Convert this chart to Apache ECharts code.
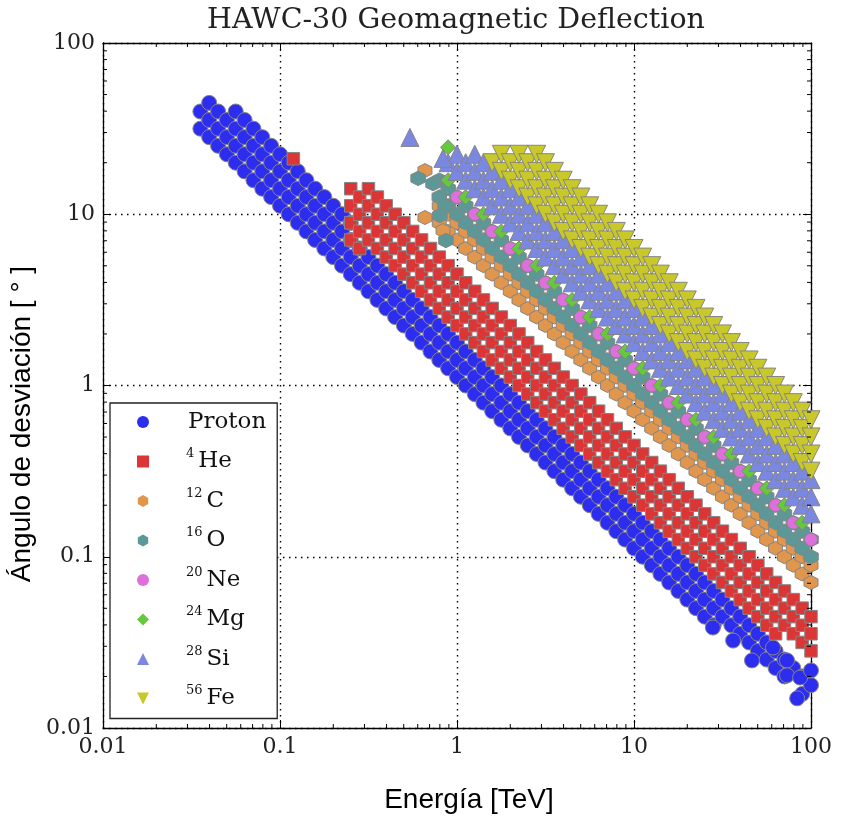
<!DOCTYPE html>
<html><head><meta charset="utf-8">
<script src="https://cdn.jsdelivr.net/npm/echarts@6/dist/echarts.min.js"></script>
<style>html,body{margin:0;padding:0;background:#fff}#c{width:841px;height:817px}</style>
</head><body><div id="c"></div>
<script>
// ---- axis ticks ----
const tickLabels = ['0.01', '0.1', '1', '10', '100'];
const minorTicks = [0.02,0.03,0.04,0.05,0.06,0.07,0.08,0.09,
  0.2,0.3,0.4,0.5,0.6,0.7,0.8,0.9, 2,3,4,5,6,7,8,9, 20,30,40,50,60,70,80,90];

// ---- series names / legend ----
const seriesNames = ['Proton', 'He', 'C', 'O', 'Ne', 'Mg', 'Si', 'Fe'];
const massNumbers = [null, 4, 12, 16, 20, 24, 28, 56];

// ---- data: each row = [energy TeV, deflection angles (deg) read at that energy ...] ----
const protonRows = [
 [0.0355,31.6,39.8],[0.0398,28.2,35.5,44.7],[0.0447,25.1,31.6,39.8],[0.0501,22.4,28.2,35.5],
 [0.0562,20.0,25.1,31.6,39.8],[0.0631,17.8,22.4,28.2,35.5],[0.0708,15.8,20.0,25.1,31.6],
 [0.0794,14.1,17.8,22.4,28.2],[0.0891,12.6,15.8,20.0,25.1],[0.1,11.2,14.1,17.8,22.4],
 [0.112,10,12.6,15.8,20.0],[0.126,8.91,11.2,14.1,17.8],[0.141,7.94,10,12.6,15.8],
 [0.158,7.08,8.91,11.2,14.1],[0.178,6.31,7.94,10,12.6],[0.2,5.62,7.08,8.91,11.2],
 [0.224,5.01,6.31,7.94,10],[0.251,4.47,5.62,7.08,8.91],[0.282,3.98,5.01,6.31],
 [0.316,3.55,4.47,5.62],[0.355,3.16,3.98,5.01],[0.398,2.82,3.55,4.47],[0.447,2.51,3.16,3.98],
 [0.501,2.24,2.82,3.55],[0.562,2.0,2.51,3.16],[0.631,1.78,2.24,2.82],[0.708,1.58,2.0,2.51],
 [0.794,1.41,1.78,2.24],[0.891,1.26,1.58,2.0],[1,1.12,1.41,1.78],[1.12,1.0,1.26,1.58],
 [1.26,0.891,1.12,1.41],[1.41,0.794,1.0,1.26],[1.58,0.708,0.891,1.12],[1.78,0.631,0.794,1.0],
 [2.0,0.562,0.708,0.891],[2.24,0.501,0.631,0.794],[2.51,0.447,0.562,0.708],[2.82,0.398,0.501,0.631],
 [3.16,0.355,0.447,0.562],[3.55,0.316,0.398,0.501],[3.98,0.282,0.355,0.447],[4.47,0.251,0.316,0.398],
 [5.01,0.224,0.282,0.355],[5.62,0.2,0.251,0.316],[6.31,0.178,0.224,0.282],[7.08,0.158,0.2,0.251],
 [7.94,0.141,0.178,0.224],[8.91,0.126,0.158,0.2],[10,0.112,0.141,0.178],[11.2,0.1,0.126,0.158],
 [12.6,0.0891,0.112,0.141],[14.1,0.0794,0.1,0.126],[15.8,0.0708,0.0891,0.112],[17.8,0.0631,0.0794,0.1],
 [20.0,0.0562,0.0708,0.0891],[22.4,0.0501,0.0631,0.0794],[25.1,0.0447,0.0562,0.0708],
 [28.2,0.0398,0.0501,0.0631],[31.6,0.0447,0.0562],[35.5,0.0398,0.0501],[39.8,0.0355,0.0447],
 [44.7,0.0316,0.0398],[50.1,0.0282,0.0355],[56.2,0.0251,0.0316],[63.1,0.0224,0.0282],
 [70.8,0.02,0.0251],[79.4,0.0224],[89.1,0.0158,0.02],[100,0.0178],
 [27.9,0.0386],[36.3,0.0324],[46.4,0.0248],[61,0.0295],[73.2,0.0248,0.0203],[86.8,0.0197],
 [83.5,0.0149],[100,0.0217]
];
const heliumRows = [
 [0.251,7.08,8.91,11.2,14.1],[0.282,6.31,7.94,10,12.6],[0.316,7.08,8.91,11.2,14.1],
 [0.355,6.31,7.94,10,12.6],[0.398,5.62,7.08,8.91,11.2],[0.447,5.01,6.31,7.94,10],
 [0.501,4.47,5.62,7.08,8.91],[0.562,3.98,5.01,6.31,7.94],[0.631,3.55,4.47,5.62,7.08],
 [0.708,3.16,3.98,5.01,6.31],[0.794,2.82,3.55,4.47,5.62],[0.891,2.51,3.16,3.98,5.01],
 [1,2.24,2.82,3.55,4.47],[1.12,2.0,2.51,3.16,3.98],[1.26,1.78,2.24,2.82,3.55],
 [1.41,1.58,2.0,2.51,3.16],[1.58,1.41,1.78,2.24,2.82],[1.78,1.26,1.58,2.0,2.51],
 [2.0,1.12,1.41,1.78,2.24],[2.24,1.0,1.26,1.58,2.0],[2.51,0.891,1.12,1.41,1.78],
 [2.82,0.794,1.0,1.26,1.58],[3.16,0.708,0.891,1.12,1.41],[3.55,0.631,0.794,1.0,1.26],
 [3.98,0.562,0.708,0.891,1.12],[4.47,0.501,0.631,0.794,1.0],[5.01,0.447,0.562,0.708,0.891],
 [5.62,0.398,0.501,0.631,0.794],[6.31,0.355,0.447,0.562,0.708],[7.08,0.316,0.398,0.501,0.631],
 [7.94,0.282,0.355,0.447,0.562],[8.91,0.251,0.316,0.398,0.501],[10,0.224,0.282,0.355,0.447],
 [11.2,0.2,0.251,0.316,0.398],[12.6,0.178,0.224,0.282,0.355],[14.1,0.158,0.2,0.251,0.316],
 [15.8,0.141,0.178,0.224,0.282],[17.8,0.126,0.158,0.2,0.251],[20.0,0.112,0.141,0.178,0.224],
 [22.4,0.1,0.126,0.158,0.2],[25.1,0.0891,0.112,0.141,0.178],[28.2,0.0794,0.1,0.126,0.158],
 [31.6,0.0708,0.0891,0.112,0.141],[35.5,0.0631,0.0794,0.1,0.126],[39.8,0.0562,0.0708,0.0891,0.112],
 [44.7,0.0501,0.0631,0.0794,0.1],[50.1,0.0447,0.0562,0.0708,0.0891],[56.2,0.0398,0.0501,0.0631,0.0794],
 [63.1,0.0355,0.0447,0.0562,0.0708],[70.8,0.0398,0.0501,0.0631],[79.4,0.0355,0.0447,0.0562],
 [89.1,0.0316,0.0398,0.0501],[100,0.0282,0.0355,0.0447],[0.119,21.1]
];
const carbonRows = [
 [0.794,8.91,11.2],[0.891,7.94,10],[1,7.08,8.91],[1.12,6.31,7.94],[1.26,5.62,7.08],[1.41,5.01,6.31],
 [1.58,4.47,5.62],[1.78,3.98,5.01],[2.0,3.55,4.47],[2.24,3.16,3.98],[2.51,2.82,3.55],[2.82,2.51,3.16],
 [3.16,2.24,2.82],[3.55,2.0,2.51],[3.98,1.78,2.24],[4.47,1.58,2.0],[5.01,1.41,1.78],[5.62,1.26,1.58],
 [6.31,1.12,1.41],[7.08,1.0,1.26],[7.94,0.891,1.12],[8.91,0.794,1.0],[10,0.708,0.891],
 [11.2,0.631,0.794],[12.6,0.562,0.708],[14.1,0.501,0.631],[15.8,0.447,0.562],[17.8,0.398,0.501],
 [20.0,0.355,0.447],[22.4,0.316,0.398],[25.1,0.282,0.355],[28.2,0.251,0.316],[31.6,0.224,0.282],
 [35.5,0.2,0.251],[39.8,0.178,0.224],[44.7,0.158,0.2],[50.1,0.141,0.178],[56.2,0.126,0.158],
 [63.1,0.112,0.141],[70.8,0.1,0.126],[79.4,0.0891,0.112],[89.1,0.0794,0.1],[100,0.0708,0.0891],
 [0.659,18.0,9.57],[0.834,8.04]
];
const oxygenRows = [
 [0.794,12.6,15.8],[0.891,11.2,14.1],[1,10,12.6],[1.12,8.91,11.2],[1.26,7.94,10],[1.41,7.08,8.91],
 [1.58,6.31,7.94],[1.78,5.62,7.08],[2.0,5.01,6.31],[2.24,4.47,5.62],[2.51,3.98,5.01],[2.82,3.55,4.47],
 [3.16,3.16,3.98],[3.55,2.82,3.55],[3.98,2.51,3.16],[4.47,2.24,2.82],[5.01,2.0,2.51],[5.62,1.78,2.24],
 [6.31,1.58,2.0],[7.08,1.41,1.78],[7.94,1.26,1.58],[8.91,1.12,1.41],[10,1.0,1.26],[11.2,0.891,1.12],
 [12.6,0.794,1.0],[14.1,0.708,0.891],[15.8,0.631,0.794],[17.8,0.562,0.708],[20.0,0.501,0.631],
 [22.4,0.447,0.562],[25.1,0.398,0.501],[28.2,0.355,0.447],[31.6,0.316,0.398],[35.5,0.282,0.355],
 [39.8,0.251,0.316],[44.7,0.224,0.282],[50.1,0.2,0.251],[56.2,0.178,0.224],[63.1,0.158,0.2],
 [70.8,0.141,0.178],[79.4,0.126,0.158],[89.1,0.112,0.141],[100,0.1,0.126],
 [0.603,16.2],[0.732,15.1],[0.856,11.2],[0.866,7.03],[0.80,9.84]
];
const neonRows = [
 [1,12.6],[1.26,10],[1.58,7.94],[2.0,6.31],[2.51,5.01],[3.16,3.98],[3.98,3.16],[5.01,2.51],
 [6.31,2.0],[7.94,1.58],[10,1.26],[12.6,1.0],[15.8,0.794],[20.0,0.631],[25.1,0.501],[31.6,0.398],
 [39.8,0.316],[50.1,0.251],[63.1,0.2],[79.4,0.158],[100,0.126]
];
const magnesiumRows = [
 [0.891,15.8],[1.12,12.6],[1.41,10],[1.78,7.94],[2.24,6.31],[2.82,5.01],[3.55,3.98],[4.47,3.16],
 [5.62,2.51],[7.08,2.0],[8.91,1.58],[11.2,1.26],[14.1,1.0],[17.8,0.794],[22.4,0.631],[28.2,0.501],
 [35.5,0.398],[44.7,0.316],[56.2,0.251],[70.8,0.2],[89.1,0.158],[0.89,24.6]
];
const siliconRows = [
 [0.891,20.0],[1,17.8,22.4],[1.12,15.8,20.0],[1.26,14.1,17.8,22.4],[1.41,12.6,15.8,20.0],
 [1.58,11.2,14.1,17.8],[1.78,10,12.6,15.8],[2.0,8.91,11.2,14.1],[2.24,7.94,10,12.6],[2.51,7.08,8.91,11.2],
 [2.82,6.31,7.94,10],[3.16,5.62,7.08,8.91],[3.55,5.01,6.31,7.94],[3.98,4.47,5.62,7.08],
 [4.47,3.98,5.01,6.31],[5.01,3.55,4.47,5.62],[5.62,3.16,3.98,5.01],[6.31,2.82,3.55,4.47],
 [7.08,2.51,3.16,3.98],[7.94,2.24,2.82,3.55],[8.91,2.0,2.51,3.16],[10,1.78,2.24,2.82],
 [11.2,1.58,2.0,2.51],[12.6,1.41,1.78,2.24],[14.1,1.26,1.58,2.0],[15.8,1.12,1.41,1.78],
 [17.8,1.0,1.26,1.58],[20.0,0.891,1.12,1.41],[22.4,0.794,1.0,1.26],[25.1,0.708,0.891,1.12],
 [28.2,0.631,0.794,1.0],[31.6,0.562,0.708,0.891],[35.5,0.501,0.631,0.794],[39.8,0.447,0.562,0.708],
 [44.7,0.398,0.501,0.631],[50.1,0.355,0.447,0.562],[56.2,0.316,0.398,0.501],[63.1,0.282,0.355,0.447],
 [70.8,0.251,0.316,0.398],[79.4,0.224,0.282,0.355],[89.1,0.2,0.251,0.316],[100,0.178,0.224,0.282],
 [0.542,28.1],[0.834,21.2]
];
const ironRows = [
 [1.58,20.0],[1.78,17.8,22.4],[2.0,15.8,20.0],[2.24,14.1,17.8,22.4],[2.51,12.6,15.8,20.0],
 [2.82,11.2,14.1,17.8,22.4],[3.16,10,12.6,15.8,20.0],[3.55,8.91,11.2,14.1,17.8],[3.98,7.94,10,12.6,15.8],
 [4.47,7.08,8.91,11.2,14.1],[5.01,6.31,7.94,10,12.6],[5.62,5.62,7.08,8.91,11.2],[6.31,5.01,6.31,7.94,10],
 [7.08,4.47,5.62,7.08,8.91],[7.94,3.98,5.01,6.31,7.94],[8.91,3.55,4.47,5.62,7.08],[10,3.16,3.98,5.01,6.31],
 [11.2,2.82,3.55,4.47,5.62],[12.6,2.51,3.16,3.98,5.01],[14.1,2.24,2.82,3.55,4.47],[15.8,2.0,2.51,3.16,3.98],
 [17.8,1.78,2.24,2.82,3.55],[20.0,1.58,2.0,2.51,3.16],[22.4,1.41,1.78,2.24,2.82],[25.1,1.26,1.58,2.0,2.51],
 [28.2,1.12,1.41,1.78,2.24],[31.6,1.0,1.26,1.58,2.0],[35.5,0.891,1.12,1.41,1.78],[39.8,0.794,1.0,1.26,1.58],
 [44.7,0.708,0.891,1.12,1.41],[50.1,0.631,0.794,1.0,1.26],[56.2,0.562,0.708,0.891,1.12],
 [63.1,0.501,0.631,0.794,1.0],[70.8,0.447,0.562,0.708,0.891],[79.4,0.398,0.501,0.631,0.794],
 [89.1,0.355,0.447,0.562,0.708],[100,0.316,0.398,0.501,0.631]
];

// ---- build ----
const allRows = [protonRows, heliumRows, carbonRows, oxygenRows, neonRows, magnesiumRows, siliconRows, ironRows];
const toPoints = rows => rows.flatMap(r => r.slice(1).map(a => [r[0], a]));
const HEX = 'path://M50,0 L93.3,25 L93.3,75 L50,100 L6.7,75 L6.7,25 Z';
const TRI_DOWN = 'path://M0,0 L100,0 L50,100 Z';
const styles = [
  {symbol: 'circle', size: 15, color: '#2d2df0'},
  {symbol: 'rect', size: 12.5, color: '#dc3535'},
  {symbol: HEX, size: 14, color: '#e0964c'},
  {symbol: HEX, size: 14.5, color: '#5c9898'},
  {symbol: 'circle', size: 13, color: '#dd70dd'},
  {symbol: 'diamond', size: 15, color: '#66c83c'},
  {symbol: 'triangle', size: 18, color: '#7a88e2'},
  {symbol: TRI_DOWN, size: 18, color: '#c8c82a'}
];
const serif = 'DejaVu Serif';

const scatterSeries = seriesNames.map((name, i) => ({
  name, type: 'scatter', data: toPoints(allRows[i]),
  symbol: styles[i].symbol, symbolSize: styles[i].size,
  itemStyle: {color: styles[i].color, borderColor: '#858585', borderWidth: 1, opacity: 1},
  emphasis: {disabled: true}, animation: false, z: 2
}));

const tickSeries = {
  name: 'minorTicks', type: 'custom', data: minorTicks.map(v => [v]), z: 10, silent: true,
  clip: false, animation: false,
  renderItem: (params, api) => {
    const cs = params.coordSys, v = api.value(0);
    const px = api.coord([v, 1])[0], py = api.coord([1, v])[1];
    const st = {stroke: '#000', lineWidth: 1};
    const L = 4;
    return {type: 'group', children: [
      {type: 'line', shape: {x1: px, y1: cs.y + cs.height, x2: px, y2: cs.y + cs.height - L}, style: st},
      {type: 'line', shape: {x1: px, y1: cs.y, x2: px, y2: cs.y + L}, style: st},
      {type: 'line', shape: {x1: cs.x, y1: py, x2: cs.x + L, y2: py}, style: st},
      {type: 'line', shape: {x1: cs.x + cs.width, y1: py, x2: cs.x + cs.width - L, y2: py}, style: st}
    ]};
  }
};

const fmt = v => tickLabels[Math.round(Math.log10(v)) + 2];
const axisBase = (pos, showLabel, split) => ({
  type: 'log', logBase: 10, min: 0.01, max: 100, position: pos,
  axisLine: {show: true, onZero: false, lineStyle: {color: '#000', width: 1.3}},
  axisTick: {show: true, inside: true, length: 8, lineStyle: {color: '#000', width: 1}},
  minorTick: {show: false},
  axisLabel: {show: showLabel, formatter: fmt, fontFamily: serif, fontSize: 22, color: '#222',
    showMinLabel: true, showMaxLabel: true, margin: 8},
  splitLine: {show: split, lineStyle: {color: '#000', type: [1.5, 4.5], width: 1.4}}
});

const option = {
  backgroundColor: '#fff',
  animation: false,
  grid: {left: 103, right: 30, top: 43, bottom: 89, containLabel: false},
  xAxis: [axisBase('bottom', true, true), axisBase('top', false, false)],
  yAxis: [axisBase('left', true, true), axisBase('right', false, false)],
  legend: {
    data: seriesNames.map(name => ({name, itemStyle: {borderWidth: 0}})),
    orient: 'vertical', left: 110, top: 403,
    padding: [5, 11, 6, 27], itemGap: 11.5, itemWidth: 12, itemHeight: 12,
    backgroundColor: '#fff', borderColor: '#222', borderWidth: 1.3, borderRadius: 0,
    itemStyle: {borderWidth: 0}, selectedMode: false,
    formatter: name => {
      const i = seriesNames.indexOf(name);
      return massNumbers[i] ? '{s|' + massNumbers[i] + '}{t|' + name + '}' : '{p|' + name + '}';
    },
    textStyle: {fontFamily: serif, fontSize: 23, color: '#111', lineHeight: 28,
      rich: {
        p: {fontFamily: serif, fontSize: 23, color: '#111', padding: [0, 0, 0, 34]},
        t: {fontFamily: serif, fontSize: 23, color: '#111'},
        s: {fontFamily: serif, fontSize: 13, color: '#111', verticalAlign: 'top', padding: [0, 4, 0, 32]}
      }
    }
  },
  graphic: [
    {type: 'text', x: 456, y: 21, z: 20, style: {text: 'HAWC-30 Geomagnetic Deflection', fontFamily: serif,
      fontSize: 28.5, fill: '#222', align: 'center', verticalAlign: 'middle'}},
    {type: 'text', x: 469, y: 800, z: 20, style: {text: 'Energía [TeV]', fontFamily: 'Liberation Sans',
      fontSize: 28, fill: '#000', align: 'center', verticalAlign: 'middle'}},
    {type: 'text', x: 22, y: 424, rotation: Math.PI / 2, z: 20, style: {text: 'Ángulo de desviación [ ° ]',
      fontFamily: 'Liberation Sans', fontSize: 28, fill: '#000', align: 'center', verticalAlign: 'middle'}}
  ],
  series: [...scatterSeries, tickSeries]
};

const chart = echarts.init(document.getElementById('c'), null, {renderer: 'canvas'});
chart.setOption(option);
</script>
</body></html>
